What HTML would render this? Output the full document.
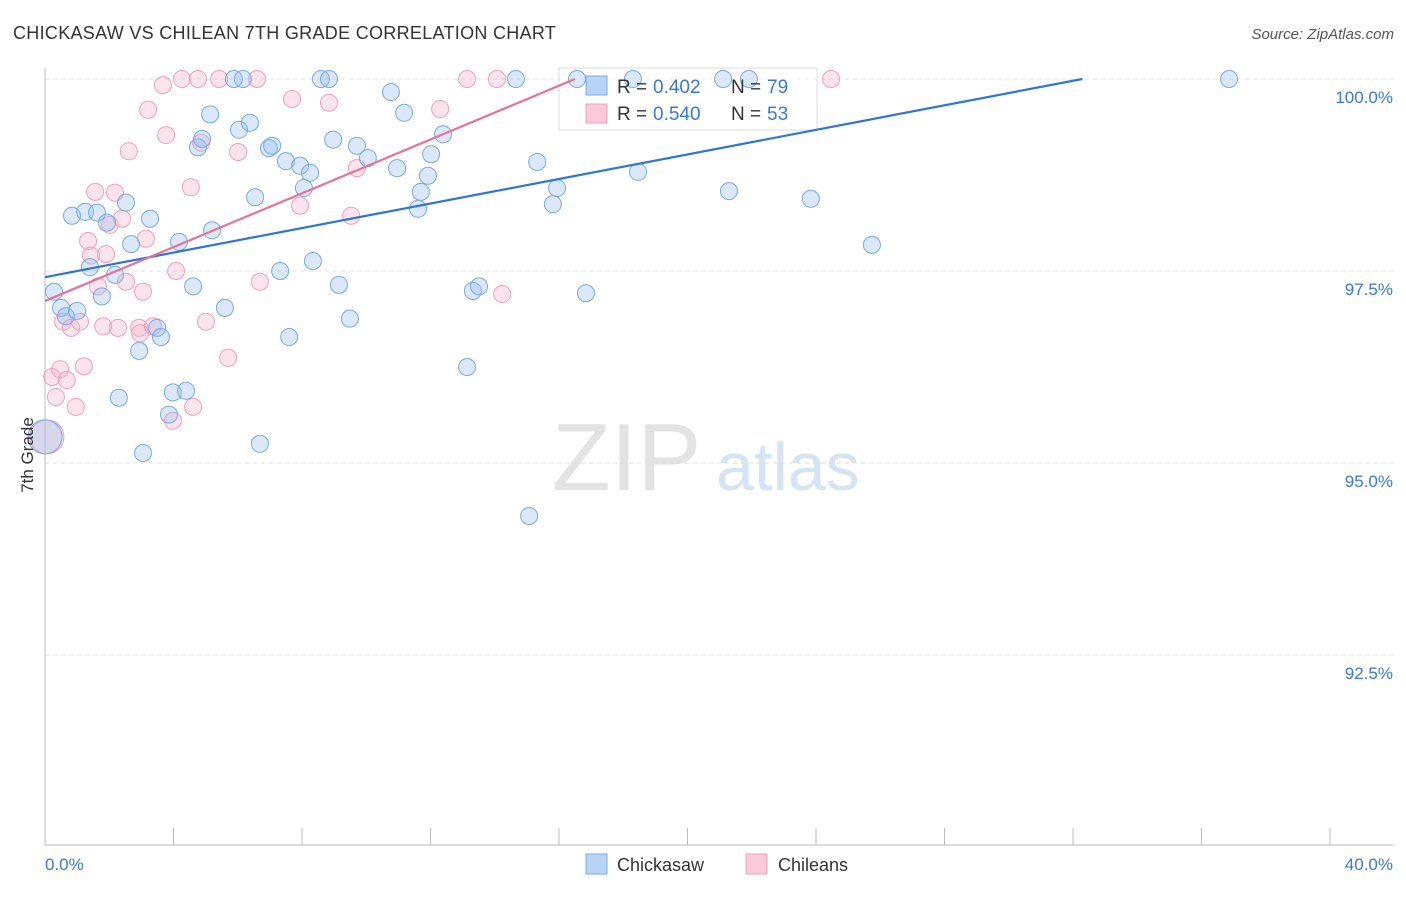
<!DOCTYPE html>
<html><head><meta charset="utf-8"><style>
body{margin:0;background:#fff;font-family:"Liberation Sans",sans-serif;}
svg text{font-family:"Liberation Sans",sans-serif;}
</style></head><body>
<svg id="chart" width="1406" height="892" xmlns="http://www.w3.org/2000/svg">
<text x="13" y="39" font-size="18" letter-spacing="0.3" fill="#333">CHICKASAW VS CHILEAN 7TH GRADE CORRELATION CHART</text>
<text x="1394" y="39" font-size="15" fill="#555" font-style="italic" text-anchor="end">Source: ZipAtlas.com</text>
<g>
<text x="552" y="490" font-size="96" fill="#e3e3e3" font-family="Liberation Serif,serif">ZIP</text>
<text x="716" y="490" font-size="68" fill="#d5e3f5">atlas</text>
</g>
<g id="grid"></g>
<g id="axes"></g>
<g>
<rect x="559" y="68" width="258" height="62" fill="rgba(255,255,255,0.6)" stroke="#ddd"/>
</g>
<g id="pts"></g>
<g id="lines"></g>
<text transform="translate(33,455) rotate(-90)" font-size="17" fill="#333" text-anchor="middle">7th Grade</text>
<g>
<rect x="586" y="76" width="21" height="19" fill="#b9d3f5" stroke="#7aa8e6"/>
<text x="617" y="93" font-size="19" fill="#333">R = </text><text x="653" y="93" font-size="19" fill="#3a78d8">0.402</text>
<text x="731" y="93" font-size="19" fill="#333">N = </text><text x="767" y="93" font-size="19" fill="#3a78d8">79</text>
<rect x="586" y="104" width="21" height="19" fill="#fbc9d9" stroke="#f0a0bb"/>
<text x="617" y="120" font-size="19" fill="#333">R = </text><text x="653" y="120" font-size="19" fill="#3a78d8">0.540</text>
<text x="731" y="120" font-size="19" fill="#333">N = </text><text x="767" y="120" font-size="19" fill="#3a78d8">53</text>
</g>
<g><rect x="586" y="854" width="21" height="20" fill="#b9d3f5" stroke="#7aa8e6"/><text x="617" y="871" font-size="18" fill="#333">Chickasaw</text></g>
<g><rect x="746" y="854" width="21" height="20" fill="#fbc9d9" stroke="#f0a0bb"/><text x="778" y="871" font-size="18" fill="#333">Chileans</text></g>
</svg>
<script>
const xTicks=[0,4,8,12,16,20,24,28,32,36,40];
const yTicks=[100,97.5,95,92.5];
const yTickLabels=["100.0%","97.5%","95.0%","92.5%"];
const xEndLabels=["0.0%","40.0%"];
const blueX=[0.28,0.50,0.65,1.00,0.84,1.25,1.62,1.40,1.77,1.93,2.18,2.30,2.52,2.68,2.93,3.05,3.27,3.49,3.61,3.86,3.98,4.17,4.39,4.61,4.76,4.89,5.14,5.20,5.60,5.88,6.04,6.16,6.38,6.54,6.69,6.97,7.07,7.32,7.50,7.60,7.94,8.06,8.25,8.34,8.59,8.84,8.97,9.15,9.49,9.71,10.05,10.77,10.96,11.18,11.61,11.70,11.92,12.02,12.39,13.14,13.32,13.51,14.66,15.07,15.32,15.81,15.94,16.56,16.84,18.30,18.46,21.11,21.29,21.91,23.84,25.74,36.86,0];
const blueY=[97.23,97.02,96.91,96.98,98.22,98.27,98.26,97.55,97.17,98.13,97.45,95.85,98.39,97.85,96.46,95.13,98.18,96.76,96.64,95.63,95.92,97.88,95.94,97.30,99.11,99.22,99.54,98.03,97.02,100,99.34,100,99.43,98.46,95.25,99.10,99.13,97.50,98.93,96.64,98.87,98.58,98.78,97.63,100,100,99.21,97.32,96.88,99.13,98.97,99.83,98.84,99.56,98.31,98.53,98.74,99.02,99.28,96.25,97.24,97.30,100,94.31,98.92,98.37,98.58,100,97.21,100,98.79,100,98.54,100,98.44,97.84,100,95.34];
const pinkX=[0.06,0.22,0.34,0.47,0.56,0.68,0.81,0.96,1.09,1.21,1.34,1.43,1.56,1.65,1.81,1.90,2.02,2.18,2.27,2.40,2.52,2.61,2.93,2.96,3.05,3.14,3.21,3.36,3.67,3.77,4.08,3.98,4.26,4.54,4.61,4.76,4.86,5.01,5.42,5.70,6.01,6.60,6.69,7.69,7.94,8.84,9.53,9.71,12.30,13.14,14.07,14.23,24.47];
const pinkY=[95.34,96.12,95.86,96.22,96.84,96.08,96.76,95.73,96.84,96.26,97.89,97.70,98.53,97.30,96.78,97.72,98.10,98.52,96.76,98.18,97.36,99.06,96.76,96.69,97.23,97.92,99.60,96.78,99.92,99.27,97.50,95.55,100,98.59,95.73,100,99.17,96.84,100,96.37,99.05,100,97.36,99.74,98.35,99.69,98.22,98.84,99.61,100,100,97.20,100];
const blueBig=[77];const pinkBig=[0];
const blueTrend=[97.42,0.0799];
const pinkTrend=[97.11,0.1752];
const NS="http://www.w3.org/2000/svg";
const sx=v=>45+v*32.125, sy=v=>79+(100-v)*76.8;
function mk(tag,attrs,parent){const e=document.createElementNS(NS,tag);for(const k in attrs)e.setAttribute(k,attrs[k]);parent.appendChild(e);return e;}
const grid=document.getElementById('grid'),axes=document.getElementById('axes'),pts=document.getElementById('pts'),lines=document.getElementById('lines');
yTicks.forEach((t,i)=>{
 const l=mk('line',{x1:45,x2:1393,y1:sy(t),y2:sy(t),stroke:'#ddd','stroke-dasharray':'4,4'},grid);
 
 
 const tx=mk('text',{x:1393,y:sy(t)+24,'font-size':17,fill:'#3a78d8','text-anchor':'end'},axes);
 tx.textContent=yTickLabels[i];
 
 
});
const ya=mk('line',{x1:45,x2:45,y1:68,y2:845,stroke:'#bbb'},axes);


const xa=mk('line',{x1:45,x2:1393,y1:845,y2:845,stroke:'#bbb'},axes);


xTicks.forEach(t=>{
 const l=mk('line',{x1:sx(t),x2:sx(t),y1:828,y2:845,stroke:'#bbb'},axes);
 
 
});
[[0,'start'],[40,'end']].forEach((p,i)=>{
 const tx=mk('text',{x:p[0]===0?45:1393,y:870,'font-size':17,fill:'#3a78d8','text-anchor':p[1]},axes);
 tx.textContent=xEndLabels[i];
 
 
});
function series(X,Y,big,fill,stroke,name){
 X.forEach((x,i)=>{
  const c=mk('circle',{cx:sx(x),cy:sy(Y[i]),r:big.includes(i)?17:8.5,fill:fill,stroke:stroke,'stroke-width':1},pts);
  
  
 });
}
series(pinkX,pinkY,pinkBig,'rgba(247,175,200,0.35)','#f0a0bb','chileans-point');
series(blueX,blueY,blueBig,'rgba(150,190,240,0.35)','#7aa8e6','chickasaw-point');
function trend(tr,color,name){
 const xEnd=Math.min(40,(100-tr[0])/tr[1]);
 const l=mk('line',{x1:sx(0),y1:sy(tr[0]),x2:sx(xEnd),y2:sy(tr[0]+tr[1]*xEnd),stroke:color,'stroke-width':2.2},lines);
 
 
}
trend(blueTrend,'#2f74d8','chickasaw-trendline');
trend(pinkTrend,'#e8719a','chileans-trendline');
</script>
</body></html>
